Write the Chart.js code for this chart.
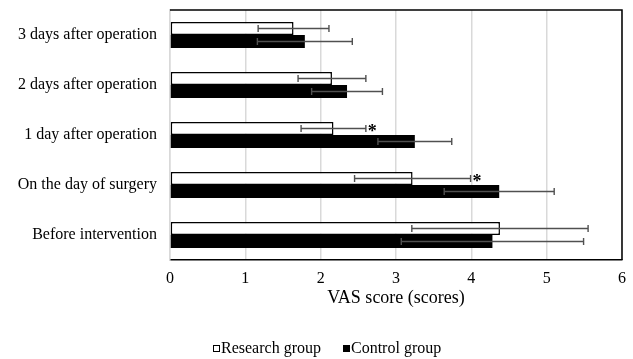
<!DOCTYPE html>
<html>
<head>
<meta charset="utf-8">
<script src="https://cdn.jsdelivr.net/npm/chart.js@4.4.1/dist/chart.umd.min.js"></script>
<style>
  html, body { margin: 0; padding: 0; background: #fff; }
  #wrap { width: 633px; height: 359px; }
</style>
</head>
<body>
<div id="wrap"><canvas id="c" width="633" height="359"></canvas></div>
<script>
// Time points (top to bottom)
const categories = [
  '3 days after operation',
  '2 days after operation',
  '1 day after operation',
  'On the day of surgery',
  'Before intervention'
];
// VAS scores: mean and standard deviation per group
const researchMean = [1.64, 2.15, 2.17, 3.22, 4.38];
const researchSD   = [0.47, 0.45, 0.43, 0.77, 1.17];
const controlMean  = [1.79, 2.35, 3.25, 4.37, 4.28];
const controlSD    = [0.63, 0.47, 0.49, 0.73, 1.21];
// Time points with a significant between-group difference
const significant  = [false, false, true, true, false];
const xTicks = [0, 1, 2, 3, 4, 5, 6];
const seriesNames = ['Research group', 'Control group'];
const axisTitle = 'VAS score (scores)';

const FONT = '"Liberation Serif", "Times New Roman", serif';
const sdLists = [researchSD, controlSD];

// Error bars (± SD) drawn over each bar
const errorBars = {
  id: 'errorBars',
  afterDatasetsDraw(chart) {
    const ctx = chart.ctx;
    const xs = chart.scales.x;
    ctx.save();
    ctx.strokeStyle = '#505050';
    ctx.lineWidth = 1.4;
    chart.data.datasets.forEach((ds, di) => {
      const meta = chart.getDatasetMeta(di);
      meta.data.forEach((bar, i) => {
        const m = ds.data[i], sd = sdLists[di][i];
        const lo = xs.getPixelForValue(m - sd);
        const hi = xs.getPixelForValue(m + sd);
        const y = bar.y;
        ctx.beginPath();
        ctx.moveTo(lo, y); ctx.lineTo(hi, y);
        ctx.moveTo(lo, y - 3.5); ctx.lineTo(lo, y + 3.5);
        ctx.moveTo(hi, y - 3.5); ctx.lineTo(hi, y + 3.5);
        ctx.stroke();
      });
    });
    // significance markers after the research-group whisker
    const meta0 = chart.getDatasetMeta(0);
    ctx.fillStyle = '#000';
    ctx.font = 'bold 18px ' + FONT;
    ctx.textAlign = 'left';
    ctx.textBaseline = 'middle';
    significant.forEach((s, i) => {
      if (!s) return;
      const hi = xs.getPixelForValue(researchMean[i] + researchSD[i]);
      ctx.fillText('*', hi + 2, meta0.data[i].y + 4);
    });
    ctx.restore();
  }
};

// Frame lines on the top and right of the plot area
const frame = {
  id: 'frame',
  afterDraw(chart) {
    const a = chart.chartArea;
    const ctx = chart.ctx;
    ctx.save();
    ctx.strokeStyle = '#000';
    ctx.lineWidth = 1.5;
    ctx.beginPath();
    ctx.moveTo(a.left, a.top); ctx.lineTo(a.right, a.top); ctx.lineTo(a.right, a.bottom);
    ctx.stroke();
    ctx.restore();
  }
};

// Legend row beneath the axis title
const legendRow = {
  id: 'legendRow',
  afterDraw(chart) {
    const ctx = chart.ctx;
    const y = 349;
    const items = [
      { x: 213, fill: '#fff', text: seriesNames[0] },
      { x: 343, fill: '#000', text: seriesNames[1] }
    ];
    ctx.save();
    ctx.font = '16px ' + FONT;
    ctx.textBaseline = 'middle';
    ctx.textAlign = 'left';
    items.forEach(it => {
      ctx.fillStyle = it.fill;
      ctx.fillRect(it.x, y - 4, 7, 7);
      ctx.strokeStyle = '#000';
      ctx.lineWidth = 1;
      ctx.strokeRect(it.x + 0.5, y - 3.5, 6, 6);
      ctx.fillStyle = '#000';
      ctx.fillText(it.text, it.x + 8, y);
    });
    ctx.restore();
  }
};

new Chart(document.getElementById('c'), {
  type: 'bar',
  data: {
    labels: categories,
    datasets: [
      {
        label: seriesNames[0],
        data: researchMean,
        backgroundColor: '#ffffff',
        borderColor: '#000000',
        borderWidth: 1.5,
        borderSkipped: false,
        categoryPercentage: 0.52,
        barPercentage: 1.0
      },
      {
        label: seriesNames[1],
        data: controlMean,
        backgroundColor: '#000000',
        borderColor: '#000000',
        borderWidth: 0,
        categoryPercentage: 0.52,
        barPercentage: 1.0
      }
    ]
  },
  options: {
    indexAxis: 'y',
    responsive: false,
    devicePixelRatio: 1,
    animation: false,
    layout: { padding: { top: 10, right: 11, left: 0, bottom: 49 } },
    plugins: {
      legend: { display: false },
      tooltip: { enabled: false }
    },
    scales: {
      x: {
        min: 0, max: 6,
        afterBuildTicks(scale) { scale.ticks = xTicks.map(v => ({ value: v })); },
        afterFit(scale) {
          scale.height = 50;
          scale.paddingLeft = 0; scale.paddingRight = 0;
        },
        ticks: {
          color: '#000',
          font: { family: FONT, size: 16 },
          padding: 9,
          maxRotation: 0
        },
        grid: { color: '#d9d9d9', lineWidth: 1.5, drawTicks: false },
        border: { color: '#000', width: 1.5 },
        title: {
          display: true,
          text: axisTitle,
          color: '#000',
          font: { family: FONT, size: 18 },
          padding: { top: 0, bottom: 1 }
        }
      },
      y: {
        afterFit(scale) {
          scale.width = 170;
          scale.paddingTop = 0; scale.paddingBottom = 0;
        },
        ticks: {
          color: '#000',
          font: { family: FONT, size: 16 },
          padding: 13
        },
        grid: { display: false, drawTicks: false },
        border: { color: '#d9d9d9', width: 1.5 }
      }
    }
  },
  plugins: [errorBars, frame, legendRow]
});
</script>
</body>
</html>
